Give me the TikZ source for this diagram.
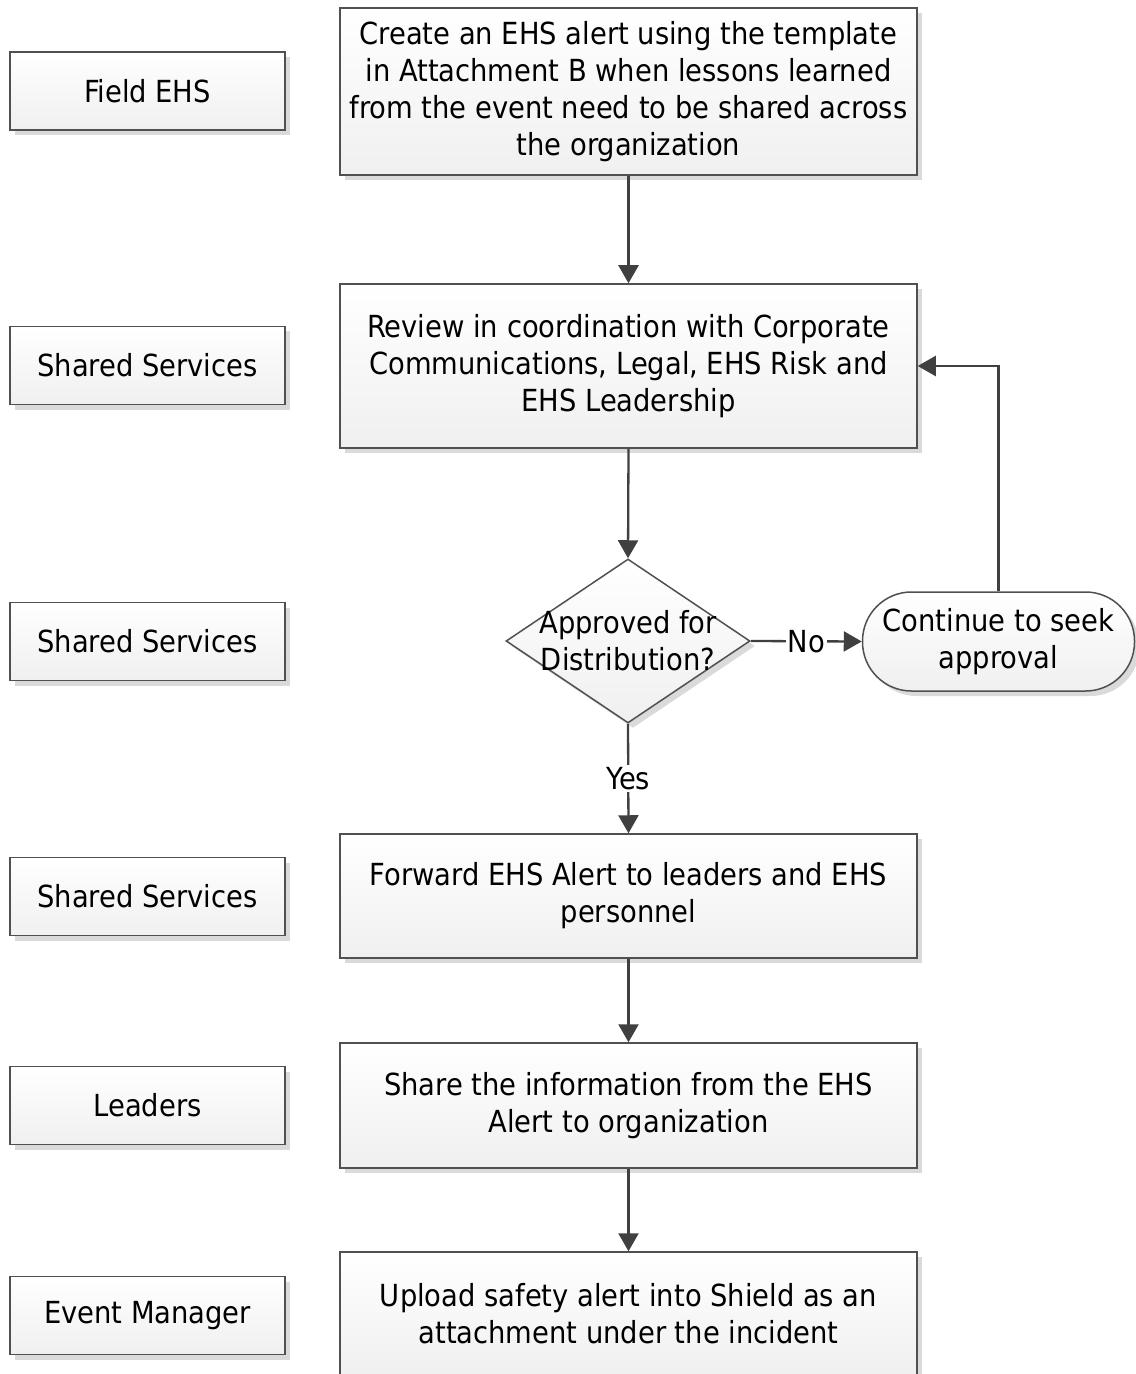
\documentclass[tikz,border=0pt]{standalone}
\usepackage{fontspec}
\setmainfont{DejaVu Sans Condensed}
\usetikzlibrary{arrows.meta,shapes.geometric,shadows}
\definecolor{edge}{HTML}{505050}
\definecolor{lin}{HTML}{404040}
\definecolor{shad}{HTML}{DADADA}
\tikzset{
  txt/.style={font=\fontsize{15.2}{18.5}\selectfont},
  box/.style={draw=edge, line width=0.75pt, top color=white, bottom color=gray!12,
    drop shadow={shadow xshift=2.5pt, shadow yshift=-2.5pt, fill=shad, opacity=1},
    align=center, txt, inner sep=0pt},
  lane/.style={box, minimum width=137.5pt, minimum height=39pt},
  stepbox/.style={box, minimum width=288.5pt},
  arr/.style={draw=lin, line width=1.15pt, -{Triangle[length=9pt,width=10pt]}},
  lbl/.style={fill=white, inner sep=1pt, txt}
}
\begin{document}
\begin{tikzpicture}[x=0.5pt,y=-0.5pt]
\useasboundingbox[fill=white] (0,0) rectangle (1135,1374);
% lanes
\node[lane] (l1) at (147.5,91) {Field EHS};
\node[lane] (l2) at (147.5,365.5) {Shared Services};
\node[lane] (l3) at (147.5,641.5) {Shared Services};
\node[lane] (l4) at (147.5,896.5) {Shared Services};
\node[lane] (l5) at (147.5,1105.5) {Leaders};
\node[lane] (l6) at (147.5,1315.5) {Event Manager};
% steps
\node[stepbox, minimum height=83.5pt] (b1) at (628.5,91.5)
  {Create an EHS alert using the template\\in Attachment B when lessons learned\\from the event need to be shared across\\the organization};
\node[stepbox, minimum height=82pt] (b2) at (628.5,366)
  {Review in coordination with Corporate\\Communications, Legal, EHS Risk and\\EHS Leadership};
\node[box, shape=diamond, minimum width=122pt, minimum height=82pt] (d) at (628,641) {};
\node[align=center, txt, inner sep=0pt] (dt) at (628,641) {Approved for\\Distribution?};
\node[box, rounded corners=24.5pt, minimum width=136pt, minimum height=49.5pt] (t) at (998.5,641.5)
  {Continue to seek\\approval};
\node[stepbox, minimum height=62pt] (b3) at (628.5,896)
  {Forward EHS Alert to leaders and EHS\\personnel};
\node[stepbox, minimum height=62.5pt] (b4) at (628.5,1105.5)
  {Share the information from the EHS\\Alert to organization};
\node[stepbox, minimum height=62pt] (b5) at (628.5,1314)
  {Upload safety alert into Shield as an\\attachment under the incident};
% connectors
\draw[arr] (b1.south) -- (b2.north);
\draw[arr] (b2.south) -- (d.north);
\draw[arr] (d.south) -- node[lbl] {Yes} (b3.north);
\draw[arr] (d.east) -- node[lbl] {No} (t.west);
\draw[arr] (t.north) |- (b2.east);
\draw[arr] (b3.south) -- (b4.north);
\draw[arr] (b4.south) -- (b5.north);
\end{tikzpicture}
\end{document}
